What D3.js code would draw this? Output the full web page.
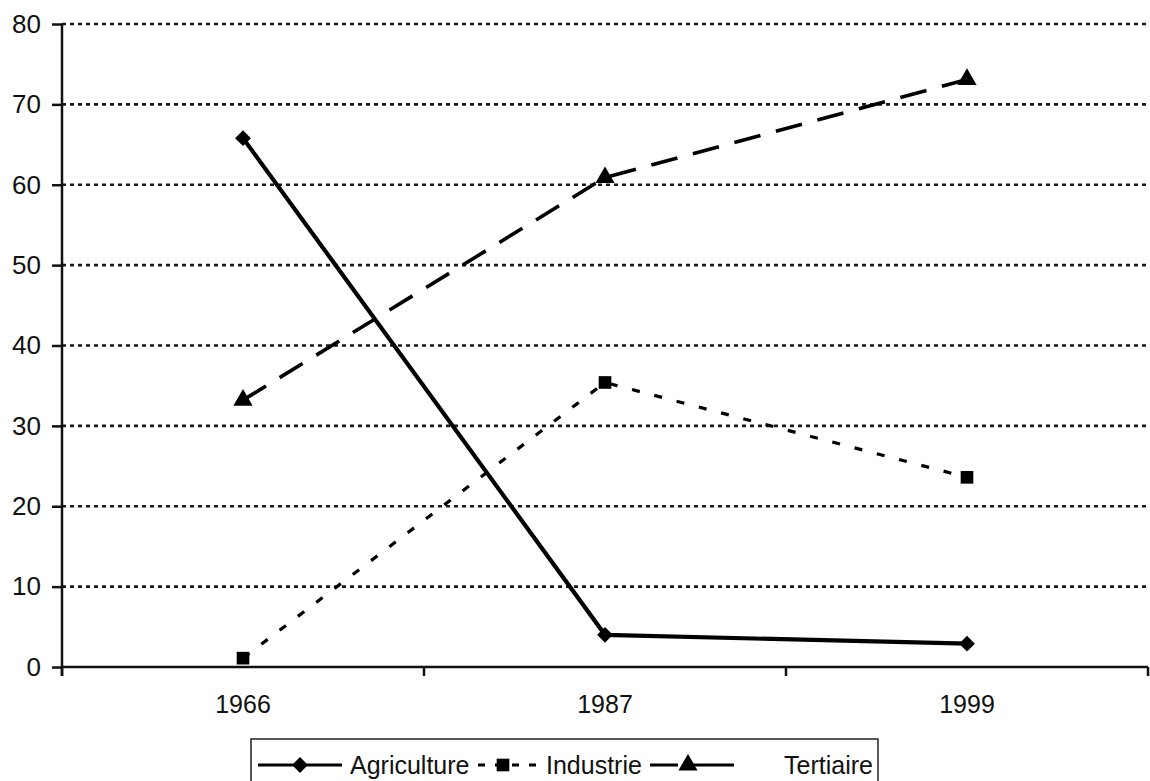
<!DOCTYPE html>
<html>
<head>
<meta charset="utf-8">
<script src="https://cdn.jsdelivr.net/npm/d3@7"></script>
<style>
  body { margin: 0; background: #fff; }
  text { font-family: "Liberation Sans", Arial, sans-serif; fill: #111; }
</style>
</head>
<body>
<div id="chart"></div>
<script>
const years = ["1966", "1987", "1999"];
const yTicks = [0, 10, 20, 30, 40, 50, 60, 70, 80];
const agriculture = [65.8, 4.0, 2.9];
const industrie = [1.1, 35.4, 23.6];
const tertiaire = [33.2, 60.9, 73.1];

const series = [
  {name: "Agriculture", values: agriculture, dash: null, width: 4.2, symbol: "diamond"},
  {name: "Industrie", values: industrie, dash: "8,15", width: 3.2, symbol: "square"},
  {name: "Tertiaire", values: tertiaire, dash: "27,16", width: 3.6, symbol: "triangle"}
];

const width = 1150;
const height = 781;
const margin = {top: 24, right: 2, bottom: 114, left: 62};

const svg = d3.select("#chart").append("svg")
  .attr("width", width)
  .attr("height", height);

const x = d3.scaleBand()
  .domain(years)
  .range([margin.left, width - margin.right]);

const y = d3.scaleLinear()
  .domain([0, 80])
  .range([height - margin.bottom, margin.top]);

const symbolPath = (kind) => {
  if (kind === "diamond") { return d3.symbol(d3.symbolSquare, 125)(); }
  if (kind === "square") { return d3.symbol(d3.symbolSquare, 160)(); }
  return d3.symbol(d3.symbolTriangle, 160)();
};
const symbolRotate = (kind) => (kind === "diamond" ? 45 : 0);

// dotted grid
svg.append("g")
  .selectAll("line")
  .data(yTicks.filter((d) => d > 0))
  .join("line")
  .attr("x1", margin.left)
  .attr("x2", width - margin.right)
  .attr("y1", (d) => y(d))
  .attr("y2", (d) => y(d))
  .attr("stroke", "#1a1a1a")
  .attr("stroke-width", 2.6)
  .attr("stroke-dasharray", "4,4");

// y axis
const yAxis = svg.append("g")
  .attr("transform", `translate(${margin.left},0)`)
  .call(d3.axisLeft(y).tickValues(yTicks).tickSize(10).tickPadding(11));
yAxis.select(".domain").attr("stroke", "#111").attr("stroke-width", 2.5)
  .attr("d", `M0,${y(80)}V${y(0) + 9}`);
yAxis.selectAll(".tick line").attr("stroke", "#111").attr("stroke-width", 2.5);
yAxis.selectAll(".tick text").style("font-size", "26px").attr("fill", "#111");

// x axis with ticks between categories
const xAxis = svg.append("g")
  .attr("transform", `translate(0,${y(0)})`);
xAxis.append("line")
  .attr("x1", margin.left)
  .attr("x2", width - margin.right)
  .attr("stroke", "#111")
  .attr("stroke-width", 2.5);
const edges = years.map((d) => x(d)).concat([x(years[years.length - 1]) + x.bandwidth()]);
xAxis.selectAll(".sep")
  .data(edges)
  .join("line")
  .attr("class", "sep")
  .attr("x1", (d) => d)
  .attr("x2", (d) => d)
  .attr("y1", 0)
  .attr("y2", 9)
  .attr("stroke", "#111")
  .attr("stroke-width", 2.5);
xAxis.selectAll(".lab")
  .data(years)
  .join("text")
  .attr("class", "lab")
  .attr("x", (d) => x(d) + x.bandwidth() / 2)
  .attr("y", 46)
  .attr("text-anchor", "middle")
  .style("font-size", "25px")
  .text((d) => d);

// series lines and markers
const line = d3.line()
  .x((d, i) => x(years[i]) + x.bandwidth() / 2)
  .y((d) => y(d));

series.forEach((s) => {
  svg.append("path")
    .datum(s.values)
    .attr("fill", "none")
    .attr("stroke", "#000")
    .attr("stroke-width", s.width)
    .attr("stroke-dasharray", s.dash)
    .attr("d", line);

  svg.append("g")
    .selectAll("path")
    .data(s.values)
    .join("path")
    .attr("d", symbolPath(s.symbol))
    .attr("fill", "#000")
    .attr("transform", (d, i) =>
      `translate(${x(years[i]) + x.bandwidth() / 2},${y(d)}) rotate(${symbolRotate(s.symbol)})`);
});

// legend
const legend = svg.append("g");
legend.append("rect")
  .attr("x", 251)
  .attr("y", 739)
  .attr("width", 627)
  .attr("height", 60)
  .attr("fill", "#fff")
  .attr("stroke", "#222")
  .attr("stroke-width", 1.5);

const legendItems = [
  {s: series[0], x1: 258, x2: 342, mark: 300, dash: null, text: 350},
  {s: series[1], x1: 478, x2: 538, mark: 503, dash: "7,10", text: 546},
  {s: series[2], x1: 650, x2: 734, mark: 688, dash: "28,6,60", text: 784}
];
const ly = 765;
legendItems.forEach((item) => {
  legend.append("line")
    .attr("x1", item.x1)
    .attr("x2", item.x2)
    .attr("y1", ly)
    .attr("y2", ly)
    .attr("stroke", "#000")
    .attr("stroke-width", 3)
    .attr("stroke-dasharray", item.dash);
  legend.append("path")
    .attr("d", symbolPath(item.s.symbol))
    .attr("fill", "#000")
    .attr("transform", `translate(${item.mark},${ly}) rotate(${symbolRotate(item.s.symbol)})`);
  legend.append("text")
    .attr("x", item.text)
    .attr("y", ly)
    .attr("dy", "0.36em")
    .style("font-size", "25px")
    .text(item.s.name);
});
</script>
</body>
</html>
